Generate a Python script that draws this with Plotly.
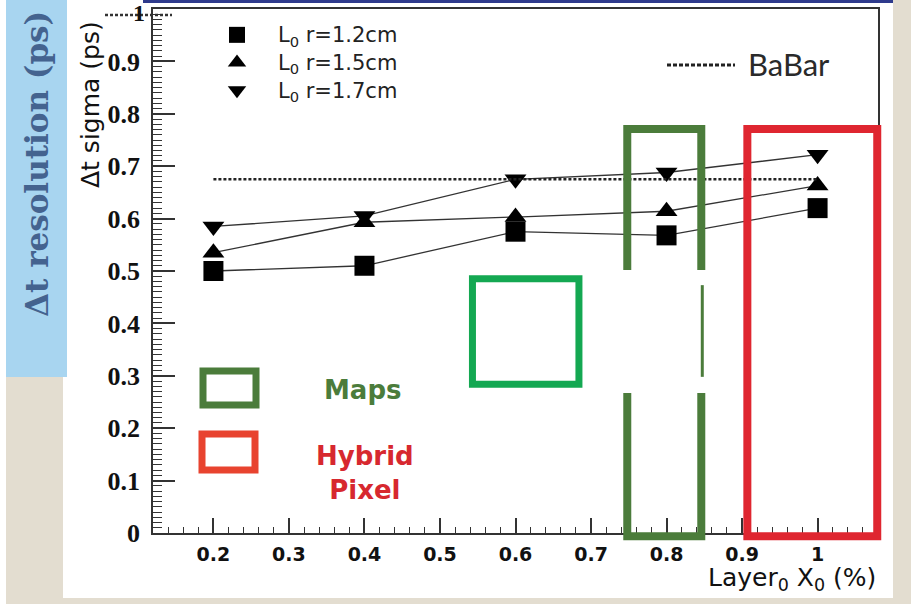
import plotly.graph_objects as go

# ---------------- data ----------------
layer_x0 = [0.2, 0.4, 0.6, 0.8, 1.0]               # Layer0 X0 (%)
sigma_r12 = [0.50, 0.51, 0.575, 0.568, 0.620]      # L0 r=1.2cm (squares)
sigma_r15 = [0.535, 0.593, 0.603, 0.614, 0.663]    # L0 r=1.5cm (triangle up)
sigma_r17 = [0.585, 0.605, 0.675, 0.688, 0.722]    # L0 r=1.7cm (triangle down)
babar_sigma = 0.675                                # BaBar reference
series_names = ["L<sub>0</sub> r=1.2cm", "L<sub>0</sub> r=1.5cm", "L<sub>0</sub> r=1.7cm"]
x_ticks = [0.2, 0.3, 0.4, 0.5, 0.6, 0.7, 0.8, 0.9, 1.0]
x_ticklabels = ["0.2", "0.3", "0.4", "0.5", "0.6", "0.7", "0.8", "0.9", "1"]
y_ticks = [0, 0.1, 0.2, 0.3, 0.4, 0.5, 0.6, 0.7, 0.8, 0.9, 1.0]
y_ticklabels = ["0", "0.1", "0.2", "0.3", "0.4", "0.5", "0.6", "0.7", "0.8", "0.9", "1"]
# highlighted x-ranges (in % X0) and y-ranges (ps)
maps_range = (0.748, 0.846)
hybrid_range = (0.907, 1.079)
box_y = (-0.006, 0.771)
center_box_x = (0.543, 0.684)
center_box_y = (0.284, 0.485)

# ---------------- geometry ----------------
W, H = 911, 604
ML, MR, MT, MB = 153, 33, 9, 71
PW, PH = W - ML - MR, H - MT - MB
XR = [0.12, 1.08]
YR = [0.0, 1.0]


def pxx(px):
    return (px - ML) / PW


def pxy(py):
    return (H - MB - py) / PH


def dx(x):
    return (x - XR[0]) / (XR[1] - XR[0])


def dy(y):
    return (y - YR[0]) / (YR[1] - YR[0])


FONT = "DejaVu Sans"
BLACK = "#111111"
YTICK_FONT = dict(family="Liberation Sans Narrow", size=26, color=BLACK, weight="bold")

fig = go.Figure()

symbols = ["square", "triangle-up", "triangle-down"]
sizes = [20, 19, 19]
for name, ys in zip(series_names, [sigma_r12, sigma_r15, sigma_r17]):
    fig.add_trace(go.Scatter(x=layer_x0, y=ys, mode="lines",
                             line=dict(color="#333333", width=1.3),
                             showlegend=False, hoverinfo="skip"))
for name, ys, sym, sz in zip(series_names, [sigma_r12, sigma_r15, sigma_r17], symbols, sizes):
    fig.add_trace(go.Scatter(x=layer_x0, y=ys, mode="markers",
                             name='<span style="font-size:21px">' + name + '</span>',
                             marker=dict(symbol=sym, size=sz, color="black",
                                         line=dict(width=0))))

fig.add_trace(go.Scatter(x=[layer_x0[0], layer_x0[-1]], y=[babar_sigma, babar_sigma],
                         mode="lines", line=dict(color="#222222", width=2.5, dash="3px,2px"),
                         showlegend=False, name="BaBar"))

shapes = []
# background: white sheet, blue side panel, navy top strip
shapes.append(dict(type="rect", xref="paper", yref="paper", x0=pxx(0), x1=pxx(6),
                   y0=pxy(604), y1=pxy(0), fillcolor="white", line=dict(width=0), layer="below"))
shapes.append(dict(type="rect", xref="paper", yref="paper", x0=pxx(63), x1=pxx(893),
                   y0=pxy(598), y1=pxy(0), fillcolor="white", line=dict(width=0), layer="below"))
shapes.append(dict(type="rect", xref="paper", yref="paper", x0=pxx(6), x1=pxx(67),
                   y0=pxy(377), y1=pxy(0), fillcolor="#A8D5F0", line=dict(width=0), layer="below"))
shapes.append(dict(type="rect", xref="paper", yref="paper", x0=pxx(143), x1=pxx(893),
                   y0=pxy(3), y1=pxy(0), fillcolor="#2E3A8C", line=dict(width=0)))
# dotted stub near top "1" label
shapes.append(dict(type="line", xref="paper", yref="paper", x0=pxx(105), x1=pxx(172),
                   y0=pxy(15), y1=pxy(15), line=dict(color="#333333", width=2.5, dash="3px,2px")))
# BaBar legend sample
shapes.append(dict(type="line", xref="paper", yref="paper", x0=pxx(667), x1=pxx(735),
                   y0=pxy(65), y1=pxy(65), line=dict(color="#222222", width=3, dash="4px,2px")))

GREEN_D = "#4B7C3B"
GREEN_B = "#14A852"
RED = "#DF2630"
RED_KEY = "#E8432F"

# Hybrid pixel box
shapes.append(dict(type="rect", xref="paper", yref="paper",
                   x0=dx(hybrid_range[0]), x1=dx(hybrid_range[1]),
                   y0=dy(box_y[0]), y1=dy(box_y[1]),
                   line=dict(color=RED, width=8), fillcolor="rgba(0,0,0,0)"))
# Maps box
shapes.append(dict(type="rect", xref="paper", yref="paper",
                   x0=dx(maps_range[0]), x1=dx(maps_range[1]),
                   y0=dy(box_y[0]), y1=dy(box_y[1]),
                   line=dict(color=GREEN_D, width=8), fillcolor="rgba(0,0,0,0)"))
# gaps in the Maps box edges
gap_lo, gap_hi = 0.267, 0.502
for xe in maps_range:
    shapes.append(dict(type="rect", xref="paper", yref="paper",
                       x0=dx(xe) - 6 / PW, x1=dx(xe) + 6 / PW,
                       y0=dy(gap_lo), y1=dy(gap_hi),
                       fillcolor="white", line=dict(width=0)))
shapes.append(dict(type="line", xref="paper", yref="paper",
                   x0=dx(maps_range[1]) + 1 / PW, x1=dx(maps_range[1]) + 1 / PW,
                   y0=dy(0.298), y1=dy(0.473), line=dict(color=GREEN_D, width=3)))
# center bright green box
shapes.append(dict(type="rect", xref="paper", yref="paper",
                   x0=dx(center_box_x[0]), x1=dx(center_box_x[1]),
                   y0=dy(center_box_y[0]), y1=dy(center_box_y[1]),
                   line=dict(color=GREEN_B, width=7), fillcolor="rgba(0,0,0,0)"))
# key boxes
shapes.append(dict(type="rect", xref="paper", yref="paper",
                   x0=pxx(203), x1=pxx(256), y0=pxy(405), y1=pxy(371),
                   line=dict(color=GREEN_D, width=7), fillcolor="rgba(0,0,0,0)"))
shapes.append(dict(type="rect", xref="paper", yref="paper",
                   x0=pxx(202), x1=pxx(255), y0=pxy(470), y1=pxy(434),
                   line=dict(color=RED_KEY, width=7), fillcolor="rgba(0,0,0,0)"))

annotations = [
    dict(text="Δt resolution (ps)", xref="paper", yref="paper", x=pxx(37), y=pxy(164),
         textangle=-90, showarrow=False, xanchor="center", yanchor="middle",
         font=dict(family="DejaVu Serif", size=31, color="#44638F", weight="bold")),
    dict(text="Δt sigma (ps)", xref="paper", yref="paper", x=pxx(91), y=pxy(105),
         textangle=-90, showarrow=False, xanchor="center", yanchor="middle",
         font=dict(family=FONT, size=25, color=BLACK)),
    dict(text="Layer<sub>0</sub> X<sub>0</sub> (%)", xref="paper", yref="paper",
         x=pxx(878), y=pxy(579), showarrow=False, xanchor="right", yanchor="middle",
         font=dict(family=FONT, size=25, color=BLACK)),
    dict(text="BaBar", xref="paper", yref="paper", x=pxx(746), y=pxy(64),
         showarrow=False, xanchor="left", yanchor="middle",
         font=dict(family="Lato", size=31, color="#2a2a2a")),
    dict(text="Maps", xref="paper", yref="paper", x=pxx(363), y=pxy(390),
         showarrow=False, xanchor="center", yanchor="middle",
         font=dict(family=FONT, size=26, color=GREEN_D, weight="bold")),
    dict(text="Hybrid<br>Pixel", xref="paper", yref="paper", x=pxx(365), y=pxy(473),
         showarrow=False, xanchor="center", yanchor="middle",
         font=dict(family=FONT, size=26, color="#D7282F", weight="bold")),
    # top y tick label, nudged down so it stays inside the page (as in the reference)
    dict(text=y_ticklabels[-1], xref="paper", yref="y", x=pxx(147), y=y_ticks[-1],
         yshift=-4, showarrow=False, xanchor="right", yanchor="middle",
         font=dict(family="Liberation Sans Narrow", size=24, color=BLACK, weight="bold")),
]

axis_common = dict(showgrid=False, zeroline=False, showline=True, mirror=True,
                   linecolor="#333333", linewidth=1.5, ticks="inside",
                   tickcolor="#333333", tickwidth=1.5, ticklabeloverflow="allow",
                   automargin=False)

fig.update_layout(
    width=W, height=H,
    margin=dict(l=ML, r=MR, t=MT, b=MB, pad=0, autoexpand=False),
    paper_bgcolor="#E3DDD0",
    plot_bgcolor="rgba(0,0,0,0)",
    xaxis=dict(range=XR, tickvals=x_ticks, ticktext=x_ticklabels, ticklen=15,
               ticklabelstandoff=3,
               tickfont=dict(family=FONT, size=19, color=BLACK, weight="bold"),
               minor=dict(dtick=0.02, tick0=0, ticklen=6, ticks="inside",
                          tickcolor="#333333", tickwidth=1.2),
               **axis_common),
    yaxis=dict(range=YR, tickvals=y_ticks[:-1], ticktext=y_ticklabels[:-1], ticklen=22,
               ticklabelstandoff=6, tickfont=YTICK_FONT,
               minor=dict(dtick=0.01, tick0=0, ticklen=9, ticks="inside",
                          tickcolor="#333333", tickwidth=1.2),
               **axis_common),
    legend=dict(x=pxx(196), y=pxy(16), xanchor="left", yanchor="top",
                bgcolor="rgba(0,0,0,0)", borderwidth=0, itemwidth=72,
                font=dict(family=FONT, size=19, color="#222222"),
                tracegroupgap=0),
    shapes=shapes,
    annotations=annotations,
    showlegend=True,
)

fig.write_html("out.html")
